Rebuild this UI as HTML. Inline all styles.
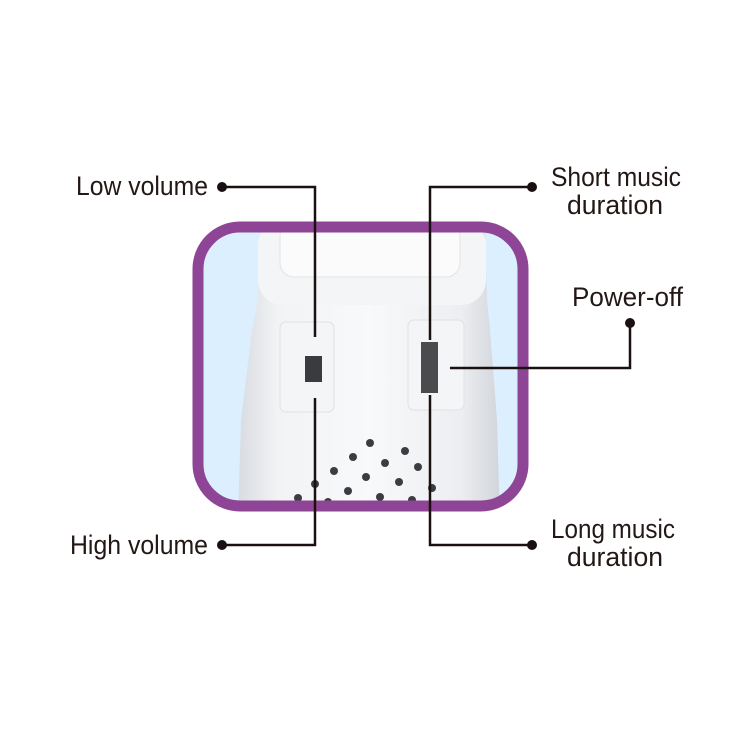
<!DOCTYPE html>
<html><head><style>body{margin:0;background:#fff}svg{display:block}</style></head><body>
<svg width="750" height="750" viewBox="0 0 750 750" xmlns="http://www.w3.org/2000/svg">
<defs>
<linearGradient id="bd" x1="0" x2="1" y1="0" y2="0">
<stop offset="0" stop-color="#d8dbe0"/><stop offset="0.15" stop-color="#f2f3f5"/><stop offset="0.5" stop-color="#f8f9fa"/><stop offset="0.85" stop-color="#eceef1"/><stop offset="1" stop-color="#d2d5da"/></linearGradient>
<clipPath id="cp"><rect x="198" y="227" width="325" height="279" rx="42"/></clipPath>
</defs>
<rect x="198" y="227" width="325" height="279" rx="42" fill="#dcefff"/>
<g clip-path="url(#cp)">
<path d="M262 227 L485 227 L487 300 L490 330 L497 420 L500 520 L238 520 L241 420 L252 330 L258 300 Z" fill="url(#bd)"/>
<rect x="258" y="220" width="228" height="85" rx="25" fill="#f4f5f7"/>
<rect x="280" y="222" width="180" height="55" rx="14" fill="#fbfbfc" stroke="#e2e3e6"/>
<rect x="280" y="322" width="54" height="90" rx="6" fill="#f4f5f7" stroke="#e0e1e4"/>
<rect x="408" y="320" width="56" height="90" rx="6" fill="#f4f5f7" stroke="#e0e1e4"/>
<rect x="305" y="356" width="17" height="26" fill="#3a3b3e"/>
<rect x="421" y="342" width="17" height="51" fill="#4a4b4e"/>
<g fill="#3c3d42">
<circle cx="370" cy="443" r="4"/><circle cx="353" cy="457" r="4"/><circle cx="405" cy="451" r="4"/><circle cx="385" cy="463" r="4"/><circle cx="418" cy="467" r="4"/><circle cx="334" cy="471" r="4"/><circle cx="366" cy="477" r="4"/><circle cx="399" cy="482" r="4"/><circle cx="315" cy="484" r="4"/><circle cx="348" cy="491" r="4"/><circle cx="380" cy="497" r="4"/><circle cx="432" cy="488" r="4"/><circle cx="298" cy="498" r="4"/><circle cx="412" cy="500" r="4"/><circle cx="328" cy="502" r="4"/></g>
</g>
<rect x="198" y="227" width="325" height="279" rx="42" fill="none" stroke="#8e4596" stroke-width="11"/>
<g stroke="#1a1010" stroke-width="2.5" fill="none">
<path d="M222 187 H315 V337"/><path d="M315 398 V545 H222"/>
<path d="M532 187 H430 V340"/><path d="M430 395 V545 H532"/>
<path d="M630 323 V368 H450"/>
</g>
<g fill="#1a1010"><circle cx="222" cy="187" r="5"/><circle cx="222" cy="545" r="5"/><circle cx="532" cy="187" r="5"/><circle cx="532" cy="545" r="5"/><circle cx="630" cy="323" r="5"/></g>
<g font-family="Liberation Sans, sans-serif" font-size="27" fill="#231815">
<text x="76" y="195" textLength="132" lengthAdjust="spacingAndGlyphs">Low volume</text>
<text x="70" y="554" textLength="138" lengthAdjust="spacingAndGlyphs">High volume</text>
<text x="551" y="186" textLength="130" lengthAdjust="spacingAndGlyphs">Short music</text>
<text x="567" y="214" textLength="96" lengthAdjust="spacingAndGlyphs">duration</text>
<text x="572" y="306" textLength="111" lengthAdjust="spacingAndGlyphs">Power-off</text>
<text x="551" y="538" textLength="124" lengthAdjust="spacingAndGlyphs">Long music</text>
<text x="567" y="566" textLength="96" lengthAdjust="spacingAndGlyphs">duration</text>
</g>
</svg>
</body></html>
